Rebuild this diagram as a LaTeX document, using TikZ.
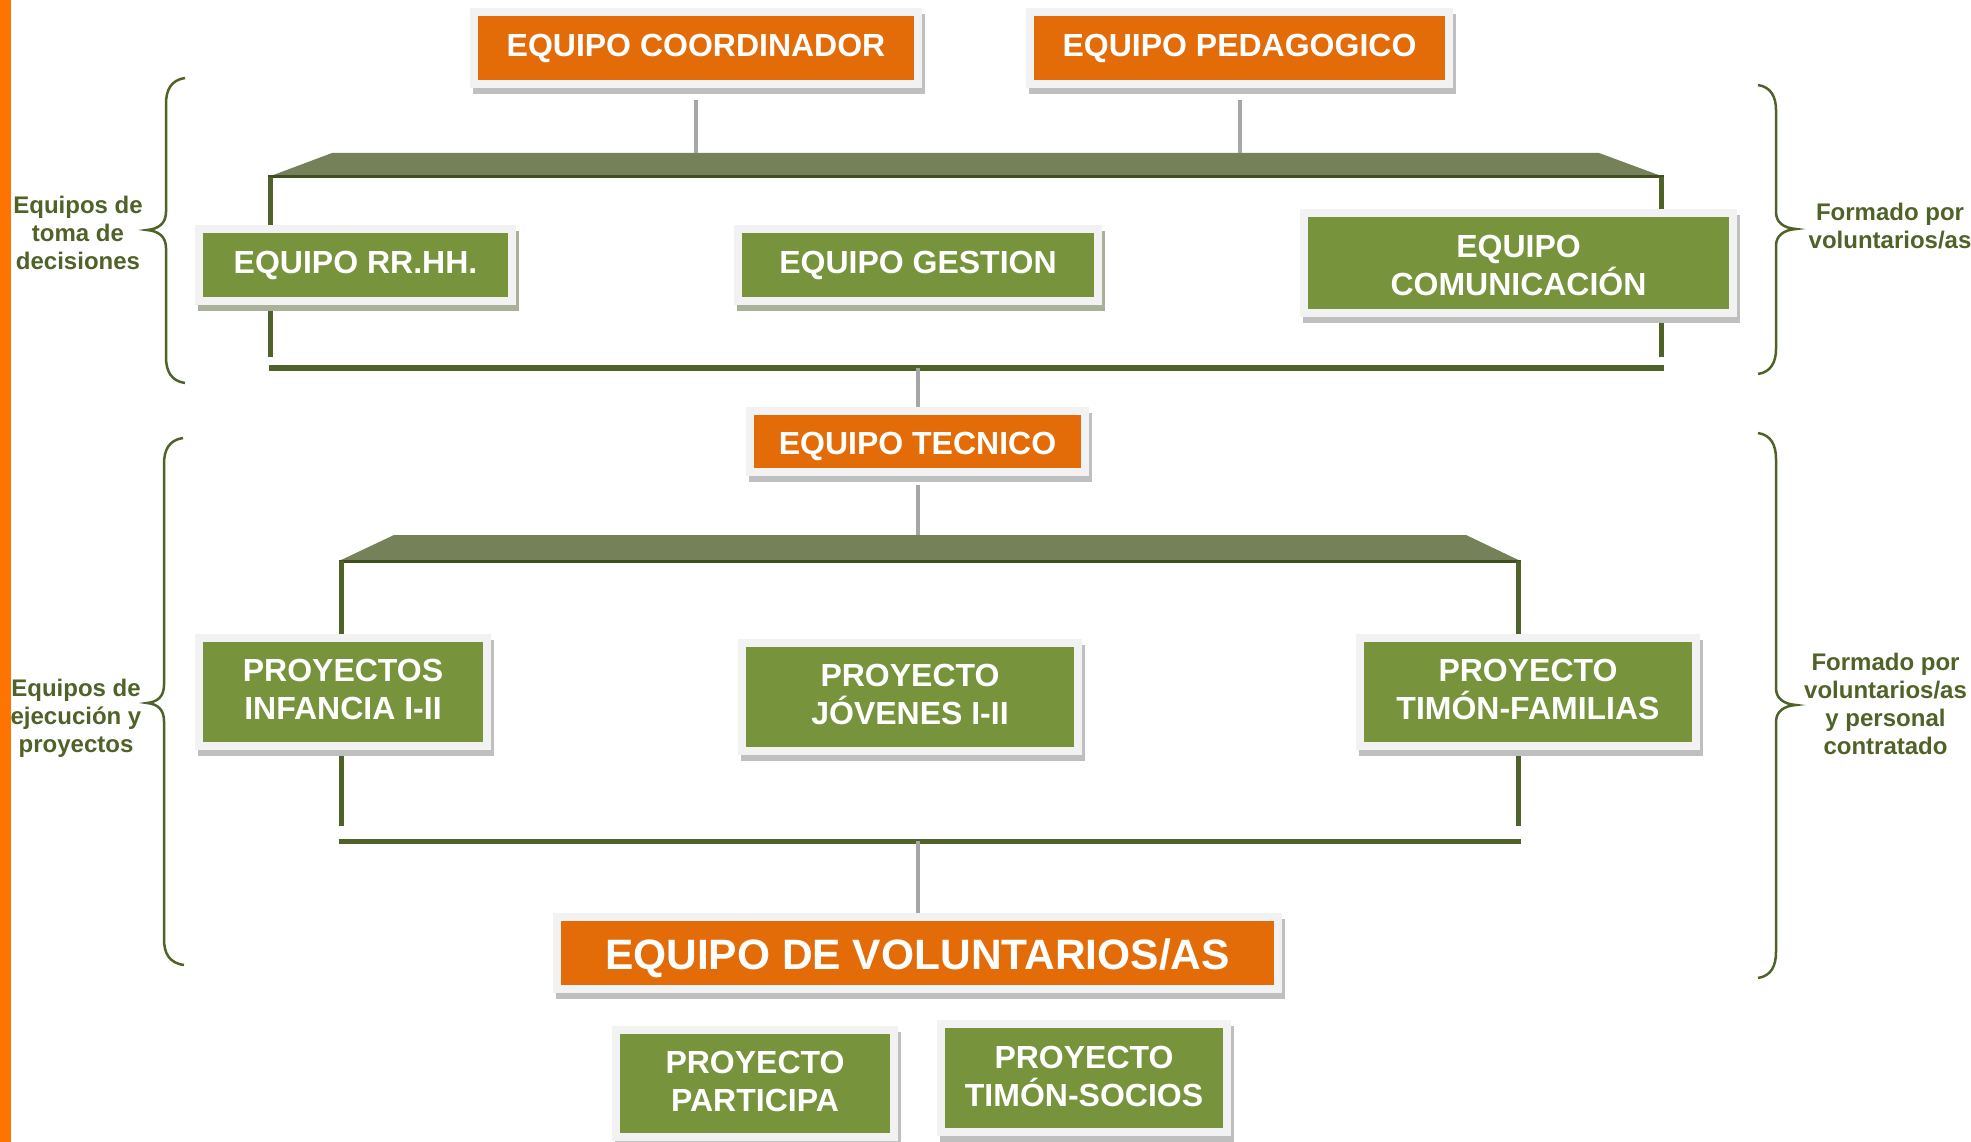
\documentclass[tikz,border=0pt]{standalone}
\usepackage{fontspec}
\setmainfont{Liberation Sans}
\usetikzlibrary{shadows,backgrounds}
\definecolor{orangec}{HTML}{E36C09}
\definecolor{greenc}{HTML}{77933C}
\definecolor{framec}{HTML}{F2F2F2}
\definecolor{shadc}{HTML}{BFBFBF}
\definecolor{shadg}{HTML}{A9B298}
\definecolor{darkol}{HTML}{4F6228}
\definecolor{darkol2}{HTML}{3F4F1F}
\definecolor{trapc}{HTML}{758159}
\definecolor{linec}{HTML}{A6A6A6}
\definecolor{barc}{HTML}{FF7300}
\newcommand\tline[2][0pt]{\raisebox{#1}[23pt][0pt]{#2}}
\newcommand\bigline[2][0pt]{\raisebox{#1}[30.4pt][0pt]{#2}}
\tikzset{
  boxbase/.style={rectangle, inner sep=0pt, fill=framec, text=white, align=center,
    font=\fontsize{32}{38}\selectfont\bfseries},
  shad/.style={drop shadow={shadow xshift=3pt, shadow yshift=-6pt, fill=#1, opacity=1}},
  obox/.style={boxbase, shad=shadc, path picture={\fill[orangec]
    ([shift={(8pt,8pt)}]path picture bounding box.south west) rectangle
    ([shift={(-8pt,-8pt)}]path picture bounding box.north east);}},
  gbox/.style={boxbase, shad=#1, path picture={\fill[greenc]
    ([shift={(8pt,8pt)}]path picture bounding box.south west) rectangle
    ([shift={(-8pt,-8pt)}]path picture bounding box.north east);}},
  gbox/.default=shadc,
  conn/.style={draw=linec, line width=4pt},
  frameline/.style={draw=darkol, line width=5pt},
  baseline2/.style={draw=darkol2, line width=3pt},
  trap/.style={fill=trapc},
  bracestyle/.style={draw=darkol, line width=2.5pt},
  sidelabel/.style={text=darkol, align=center, inner sep=0pt,
    font=\fontsize{24}{28}\selectfont\bfseries},
}
\begin{document}
\begin{tikzpicture}[x=1pt, y=-1pt]
\useasboundingbox (0,0) rectangle (1971,1142);

% boxes
\node[obox, minimum width=452pt, minimum height=80pt] (coord) at (696,48) {\tline[3.3pt]{EQUIPO COORDINADOR}};
\node[obox, minimum width=427pt, minimum height=80pt] (ped) at (1239.5,48) {\tline[3.3pt]{EQUIPO PEDAGOGICO}};
\node[gbox=shadg, minimum width=321pt, minimum height=80pt] (rrhh) at (355.5,265) {\tline[2.8pt]{EQUIPO RR.HH.}};
\node[gbox=shadg, minimum width=368pt, minimum height=80pt] (gestion) at (918,265) {\tline[2.8pt]{EQUIPO GESTION}};
\node[gbox, minimum width=437pt, minimum height=108pt] (comunic) at (1518.5,263) {\tline[-2pt]{EQUIPO}\\\tline[-2pt]{COMUNICACIÓN}};
\node[obox, minimum width=343pt, minimum height=69pt] (tecnico) at (917.5,441.5) {\tline[-1pt]{EQUIPO TECNICO}};
\node[gbox, minimum width=296pt, minimum height=116pt] (infancia) at (343,692) {\tline[3pt]{PROYECTOS}\\\tline[3pt]{INFANCIA I-II}};
\node[gbox, minimum width=344pt, minimum height=116pt] (jovenes) at (910,697) {\tline[3pt]{PROYECTO}\\\tline[3pt]{JÓVENES I-II}};
\node[gbox, minimum width=344pt, minimum height=116pt] (familias) at (1528,692) {\tline[3pt]{PROYECTO}\\\tline[3pt]{TIMÓN-FAMILIAS}};
\node[obox, minimum width=729pt, minimum height=80pt, font=\fontsize{42.5}{50}\selectfont\bfseries] (volunt) at (917.5,953) {\bigline[-1pt]{EQUIPO DE VOLUNTARIOS/AS}};
\node[gbox, minimum width=286pt, minimum height=115pt] (participa) at (755,1083.5) {\tline[2.5pt]{PROYECTO}\\\tline[2.5pt]{PARTICIPA}};
\node[gbox, minimum width=294pt, minimum height=116pt] (socios) at (1084,1078) {\tline[2pt]{PROYECTO}\\\tline[2pt]{TIMÓN-SOCIOS}};

% side labels
\node[sidelabel] (lab1) at (78,233) {Equipos de\\toma de\\decisiones};
\node[sidelabel] (lab2) at (76,718.5) {Equipos de\\ejecución y\\proyectos};
\node[sidelabel] (lab3) at (1890,226) {Formado por\\voluntarios/as};
\node[sidelabel] (lab4) at (1885.5,704) {Formado por\\voluntarios/as\\y personal\\contratado};

% frame coordinates
\coordinate (t1bl) at (268,177);
\coordinate (t1tl) at (332,153);
\coordinate (t1tr) at (1599,153);
\coordinate (t1br) at (1664,177);
\coordinate (v1lt) at (270,177);
\coordinate (v1lb) at (270,357);
\coordinate (v1rt) at (1661,177);
\coordinate (v1rb) at (1661,357);
\coordinate (b1l) at (269,368);
\coordinate (b1r) at (1663.5,368);

\coordinate (t2bl) at (339,561);
\coordinate (t2tl) at (394,535);
\coordinate (t2tr) at (1466,535);
\coordinate (t2br) at (1520.5,561);
\coordinate (v2lt) at (341,561);
\coordinate (v2lb) at (341,826);
\coordinate (v2rt) at (1518,561);
\coordinate (v2rb) at (1518,826);
\coordinate (b2l) at (338.5,841);
\coordinate (b2r) at (1520.5,841);

\begin{scope}[on background layer]
  \fill[white] (0,0) rectangle (1971,1142);
  \fill[barc] (0,0) rectangle (11,1142);

  \fill[trap] (t1bl) -- (t1tl) -- (t1tr) -- (t1br) -- cycle;
  \draw[baseline2] (t1bl) -- (t1br);
  \draw[frameline] (v1lt) -- (v1lb);
  \draw[frameline] (v1rt) -- (v1rb);
  \draw[darkol, line width=5.5pt] (b1l) -- (b1r);

  \fill[trap] (t2bl) -- (t2tl) -- (t2tr) -- (t2br) -- cycle;
  \draw[baseline2] (t2bl) -- (t2br);
  \draw[frameline] (v2lt) -- (v2lb);
  \draw[frameline] (v2rt) -- (v2rb);
  \draw[darkol, line width=5pt] (b2l) -- (b2r);

  \draw[conn, shorten <=12pt] (coord.south) -- (coord.south |- t1tl);
  \draw[conn, shorten <=12pt] (ped.south) -- (ped.south |- t1tl);
  \draw[conn] (tecnico.north |- b1l) -- (tecnico.north);
  \draw[conn, shorten <=9pt] (tecnico.south) -- (tecnico.south |- t2tl);
  \draw[conn] (volunt.north |- b2l) -- (volunt.north);
\end{scope}

% braces
\draw[bracestyle] (185,78) .. controls (171,80) and (166,90) .. (166,104) -- (166,212)
  .. controls (166,223) and (159,229) .. (147,230) .. controls (159,231) and (166,237) .. (166,248)
  -- (166,357) .. controls (166,371) and (171,381) .. (185,383);
\draw[bracestyle] (1758,85) .. controls (1771,87) and (1776,97) .. (1776,110) -- (1776,212)
  .. controls (1776,222) and (1783,228) .. (1796,229) .. controls (1783,230) and (1776,236) .. (1776,246)
  -- (1776,349) .. controls (1776,362) and (1771,372) .. (1758,374);
\draw[bracestyle] (183,438) .. controls (169,440) and (164,450) .. (164,464) -- (164,685)
  .. controls (164,696) and (158,702) .. (147,703) .. controls (158,704) and (164,710) .. (164,721)
  -- (164,939) .. controls (164,953) and (169,963) .. (184,965);
\draw[bracestyle] (1758,433) .. controls (1771,435) and (1776,445) .. (1776,459) -- (1776,688)
  .. controls (1776,698) and (1783,704) .. (1796,705) .. controls (1783,706) and (1776,712) .. (1776,722)
  -- (1776,952) .. controls (1776,966) and (1771,976) .. (1758,978);
\end{tikzpicture}
\end{document}
